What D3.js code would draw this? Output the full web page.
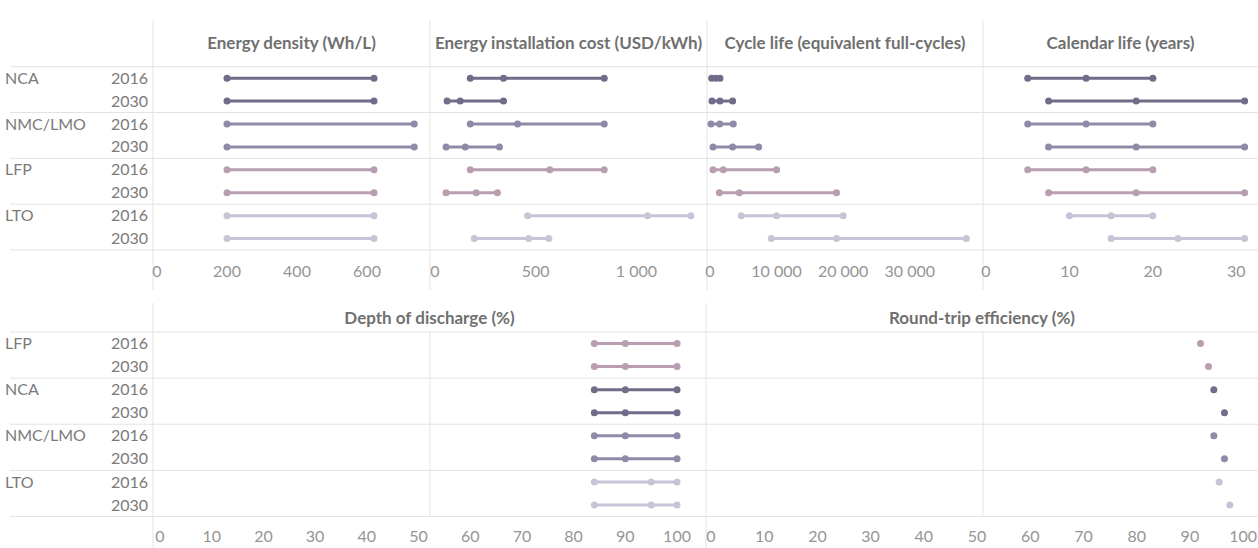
<!DOCTYPE html>
<html>
<head>
<meta charset="utf-8">
<script src="https://cdn.jsdelivr.net/npm/d3@7"></script>
<style>
  body { margin: 0; background: #fff; }
  svg text { font-family: Lato, "Open Sans", sans-serif; }
</style>
</head>
<body>
<div id="chart"></div>
<script>
// Row categories
const topTechs = ['NCA', 'NMC/LMO', 'LFP', 'LTO'];
const bottomTechs = ['LFP', 'NCA', 'NMC/LMO', 'LTO'];
const years = ['2016', '2030'];

// Values per row as [low, central, high] (top block order: NCA, NMC/LMO, LFP, LTO; 2016 then 2030)
const energyDensity = [[200, 620], [200, 620], [200, 735], [200, 735], [200, 620], [200, 620], [200, 620], [200, 620]];
const installCost = [[175, 340, 840], [60, 125, 340], [175, 410, 840], [55, 150, 320],
                     [175, 570, 840], [55, 205, 310], [460, 1055, 1270], [195, 465, 565]];
const cycleLife = [[250, 900, 1500], [300, 1500, 3400], [150, 1450, 3500], [450, 3400, 7300],
                   [450, 2000, 10000], [1400, 4400, 19000], [4700, 10000, 20000], [9200, 19000, 38500]];
const calendarLife = [[5, 12, 20], [7.5, 18, 31], [5, 12, 20], [7.5, 18, 31],
                      [5, 12, 20], [7.5, 18, 31], [10, 15, 20], [15, 23, 31]];

// Bottom block order: LFP, NCA, NMC/LMO, LTO
const depthOfDischarge = [[84, 90, 100], [84, 90, 100], [84, 90, 100], [84, 90, 100],
                          [84, 90, 100], [84, 90, 100], [84, 95, 100], [84, 95, 100]];
const roundTrip = [[92], [93.5], [94.5], [96.5], [94.5], [96.5], [95.5], [97.5]];

// Tick labels
const densityTicks = [0, 200, 400, 600];
const costTicks = [0, 500, 1000];
const cycleTicks = [0, 10000, 20000, 30000];
const calendarTicks = [0, 10, 20, 30];
const percentTicks = [0, 10, 20, 30, 40, 50, 60, 70, 80, 90, 100];

const techColors = { 'NCA': '#6f6d89', 'NMC/LMO': '#8e8ba9', 'LFP': '#b99db1', 'LTO': '#c6c4d6' };

const width = 1258, height = 548;
const gridColor = '#e3e3e3';
const fmt = d3.formatLocale({ decimal: '.', thousands: ' ', grouping: [3], currency: ['', ''] }).format(',');

// Layout of the two blocks
const blocks = {
    top: { techs: topTechs, rowTop: 66.7, rowBottom: 250, titleY: 49, tickY: 277, lineTop: 20, lineBottom: 290 },
    bottom: { techs: bottomTechs, rowTop: 332, rowBottom: 516.5, titleY: 324, tickY: 542, lineTop: 303, lineBottom: 548 }
};

const panels = [
    { block: 'top', title: 'Energy density (Wh/L)', values: energyDensity, ticks: densityTicks, max: 780, x0: 153, x1: 430, pad: 4 },
    { block: 'top', title: 'Energy installation cost (USD/kWh)', values: installCost, ticks: costTicks, max: 1350, x0: 430, x1: 707, pad: 5 },
    { block: 'top', title: 'Cycle life (equivalent full-cycles)', values: cycleLife, ticks: cycleTicks, max: 41000, x0: 707, x1: 983, pad: 3 },
    { block: 'top', title: 'Calendar life (years)', values: calendarLife, ticks: calendarTicks, max: 32.6, x0: 983, x1: 1258, pad: 3 },
    { block: 'bottom', title: 'Depth of discharge (%)', values: depthOfDischarge, ticks: percentTicks, max: 105.6, x0: 153, x1: 706, pad: 7 },
    { block: 'bottom', title: 'Round-trip efficiency (%)', values: roundTrip, ticks: percentTicks, max: 102.8, x0: 706, x1: 1258, pad: 5 }
];

const svg = d3.select('#chart')
    .append('svg')
    .attr('width', width)
    .attr('height', height);

// Row labels and separators for each block
Object.values(blocks).forEach(b => {
    const keys = b.techs.flatMap(t => years.map(yr => t + '|' + yr));
    b.y = d3.scaleBand().domain(keys).range([b.rowTop, b.rowBottom]);
    b.keys = keys;

    const seps = d3.range(b.techs.length + 1).map(i => b.rowTop + i * 2 * b.y.bandwidth());
    svg.append('g').selectAll('line')
        .data(seps)
        .enter().append('line')
        .attr('x1', 10).attr('x2', width)
        .attr('y1', d => d).attr('y2', d => d)
        .attr('stroke', gridColor)
        .attr('stroke-width', 1);

    const labels = svg.append('g').attr('fill', '#7a7a7a').attr('font-size', '16px');
    labels.selectAll('.tech')
        .data(b.techs)
        .enter().append('text')
        .attr('x', 5)
        .attr('y', t => b.y(t + '|2016') + b.y.bandwidth() / 2)
        .attr('dy', '0.35em')
        .text(t => t);
    labels.selectAll('.year')
        .data(keys)
        .enter().append('text')
        .attr('x', 148)
        .attr('text-anchor', 'end')
        .attr('y', k => b.y(k) + b.y.bandwidth() / 2)
        .attr('dy', '0.35em')
        .text(k => k.split('|')[1]);
});

// Interior gridlines of the bottom block, continuing the top panel borders
svg.append('g').selectAll('line')
    .data([panels[1].x0, panels[2].x1])
    .enter().append('line')
    .attr('x1', d => d).attr('x2', d => d)
    .attr('y1', blocks.bottom.rowTop).attr('y2', blocks.bottom.rowBottom)
    .attr('stroke', gridColor);

panels.forEach(p => {
    const b = blocks[p.block];
    const x = d3.scaleLinear().domain([0, p.max]).range([p.x0 + p.pad, p.x1]);
    const g = svg.append('g');

    // panel border
    g.append('line')
        .attr('x1', p.x0).attr('x2', p.x0)
        .attr('y1', b.lineTop).attr('y2', b.lineBottom)
        .attr('stroke', gridColor);

    g.append('text')
        .attr('x', (p.x0 + p.x1) / 2)
        .attr('y', b.titleY)
        .attr('text-anchor', 'middle')
        .attr('font-size', '17px')
        .attr('font-weight', 'bold')
        .attr('fill', '#707070')
        .text(p.title);

    // tick labels
    g.selectAll('.tick')
        .data(p.ticks)
        .enter().append('text')
        .attr('x', d => x(d))
        .attr('y', b.tickY)
        .attr('text-anchor', 'middle')
        .attr('font-size', '16px')
        .attr('fill', '#959595')
        .text(d => fmt(d));

    g.selectAll('.row')
        .data(p.values)
        .enter().append('g')
        .attr('transform', (d, i) => `translate(0,${b.y(b.keys[i]) + b.y.bandwidth() / 2})`)
        .each(function (vals, i) {
            const color = techColors[b.keys[i].split('|')[0]];
            const row = d3.select(this);
            if (vals.length > 1) {
                row.append('line')
                    .attr('x1', x(d3.min(vals))).attr('x2', x(d3.max(vals)))
                    .attr('stroke', color)
                    .attr('stroke-width', 3);
            }
            row.selectAll('circle')
                .data(vals)
                .enter().append('circle')
                .attr('cx', v => x(v))
                .attr('r', 3.5)
                .attr('fill', color);
        });
});
</script>
</body>
</html>
